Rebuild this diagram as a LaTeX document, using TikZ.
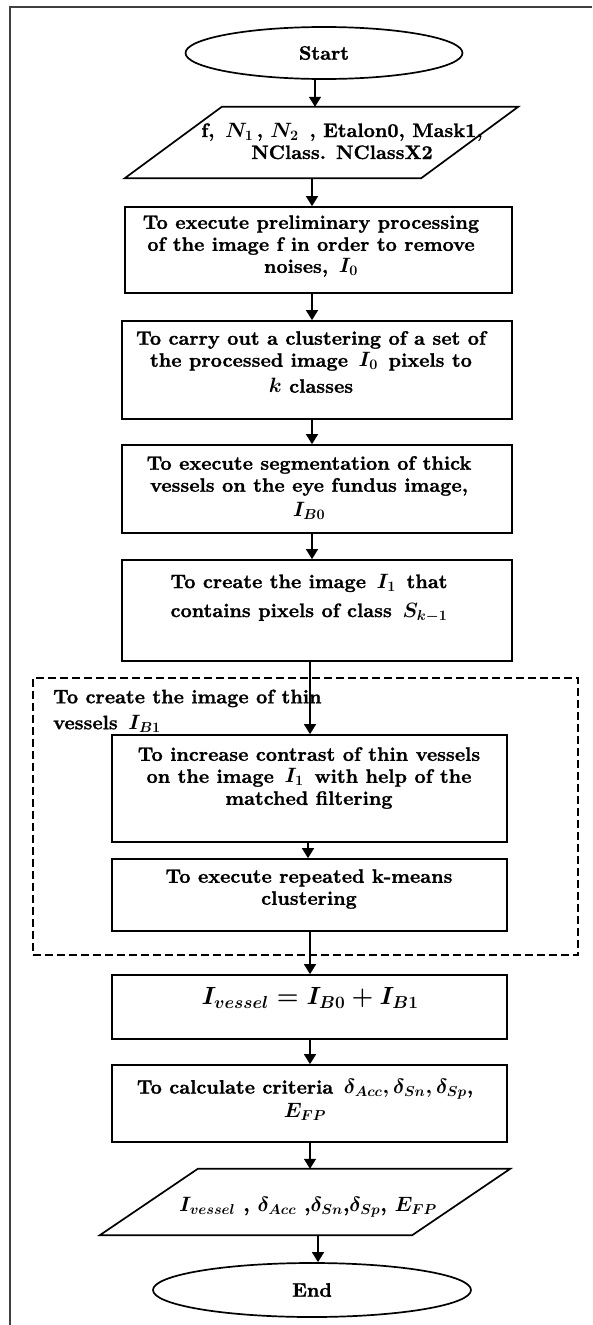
\documentclass[tikz,border=0pt]{standalone}
\usepackage{fontspec}
\setmainfont{lmroman10}[Extension=.otf, UprightFont=*-regular, BoldFont=*-bold,
  ItalicFont=*-italic, BoldItalicFont=*-bolditalic, BoldFeatures={FakeBold=1.2}]
\usetikzlibrary{arrows.meta,calc,shapes.geometric}
\tikzset{
  frameline/.style={line width=1.1pt, draw=black!75},
  boxnode/.style={draw, rectangle, line width=1.7pt, inner sep=0pt},
  ghost/.style={rectangle, inner sep=0pt},
  ovalnode/.style={draw, ellipse, line width=1.7pt, inner sep=0pt,
    font=\fontsize{19.5}{22}\selectfont\bfseries},
  slant/.style={line width=1.7pt, line join=miter},
  txt/.style={inner sep=0pt, align=center, font=\fontsize{19.5}{22}\selectfont\bfseries},
  labeltxt/.style={inner sep=0pt, align=left, font=\fontsize{19.5}{22}\selectfont\bfseries},
  summath/.style={inner sep=0pt, align=center, font=\fontsize{23}{27}\selectfont\bfseries\boldmath},
  outmath/.style={inner sep=0pt, align=center, font=\fontsize{20.5}{24}\selectfont\bfseries\boldmath},
  arr/.style={line width=1.5pt, -{Triangle[width=12pt,length=10pt]}},
  groupbox/.style={draw, line width=1.8pt, dash pattern=on 8pt off 4pt}
}
\newcommand{\mbig}[1]{{\fontsize{22}{24}\selectfont\boldmath$#1$}}
\begin{document}
\begin{tikzpicture}[x=1pt,y=-1pt]
\useasboundingbox (0,0) rectangle (592,1325);
\draw[frameline] (10,1325) -- (10,7) -- (592,7);

% arrow columns
\coordinate (c315) at (315,0);
\coordinate (c312) at (312,0);
\coordinate (c310) at (310,0);
\coordinate (c308) at (308,0);
\coordinate (c318) at (318,0);

% Start
\node[ovalnode, minimum width=277pt, minimum height=52pt] (start) at (324,53) {Start};

% input parallelogram
\node[ghost, minimum width=393pt, minimum height=71pt] (in1) at (321.5,142.5) {};
\draw[slant] (in1.south west) -- ($(in1.south east)+(-97,0)$) -- (in1.north east) -- ($(in1.north west)+(97,0)$) -- cycle;
\node[txt] (tin1) at (342,141) {f, \,\mbig{N_1}\,, \mbig{N_2} \,, Etalon0, Mask1,\\NClass. NClassX2};

% process boxes
\node[boxnode, minimum width=387pt, minimum height=86pt] (b1) at (318.5,250) {};
\node[txt] (tb1) at (311,246) {To execute preliminary processing\\of the image f in order to remove\\noises, \,\mbig{I_0}};

\node[boxnode, minimum width=390pt, minimum height=98pt] (b2) at (317,370) {};
\node[txt] (tb2) at (311,362) {To carry out a clustering of a set of\\the processed image \,\mbig{I_0}\, pixels to\\[4pt]\mbig{k} classes};

\node[boxnode, minimum width=390pt, minimum height=88pt] (b3) at (317,489) {};
\node[txt] (tb3) at (309,488) {To execute segmentation of thick\\vessels on the eye fundus image,\\[3pt]\mbig{I_{B0}}};

\node[boxnode, minimum width=390pt, minimum height=101pt] (b4) at (317,610.5) {};
\node[txt] (tb4) at (309,598) {To create the image \,\mbig{I_1}\, that\\[7pt]contains pixels of class \,\mbig{S_{k-1}}};

% dashed group
\node[groupbox, rectangle, inner sep=0pt, minimum width=545pt, minimum height=277pt] (grp) at (305.5,816.5) {};
\node[labeltxt, anchor=west] (tgrp) at (53,711) {To create the image of thin\\[4pt]vessels \,\mbig{I_{B1}}};

\node[boxnode, minimum width=395pt, minimum height=107pt] (i1) at (309.5,788.5) {};
\node[txt] (ti1) at (309,778) {To increase contrast of thin vessels\\on the image \,\mbig{I_1}\, with help of the\\matched filtering};

\node[boxnode, minimum width=395pt, minimum height=72pt] (i2) at (309.5,895) {};
\node[txt] (ti2) at (309,889) {To execute repeated k-means\\clustering};

% sum box
\node[boxnode, minimum width=395pt, minimum height=64pt] (sum) at (309.5,1007) {};
\node[summath] (tsum) at (310,998) {$I_{vessel} = I_{B0} + I_{B1}$};

% criteria box
\node[boxnode, minimum width=395pt, minimum height=77pt] (crit) at (309.5,1103.5) {};
\node[txt] (tcrit) at (305,1100) {To calculate criteria \,{\boldmath$\delta_{Acc}, \delta_{Sn}, \delta_{Sp}$},\\[2pt]\mbig{E_{FP}}};

% output parallelogram
\node[ghost, minimum width=410pt, minimum height=66pt] (out) at (305,1202) {};
\draw[slant] (out.south west) -- ($(out.south east)+(-98,0)$) -- (out.north east) -- ($(out.north west)+(98,0)$) -- cycle;
\node[outmath] (tout) at (308,1207) {$I_{vessel}$ , $\delta_{Acc}$ ,$\delta_{Sn}$,$\delta_{Sp}$, $E_{FP}$};

% End
\node[ovalnode, minimum width=318pt, minimum height=54pt] (end) at (312,1290) {End};

% connectors
\draw[arr] (start.south -| c315) -- (in1.north -| c315);
\draw[arr] (in1.south -| c312) -- (b1.north -| c312);
\draw[arr] (b1.south -| c312) -- (b2.north -| c312);
\draw[arr] (b2.south -| c312) -- (b3.north -| c312);
\draw[arr] (b3.south -| c312) -- (b4.north -| c312);
\draw[arr] (b4.south -| c310) -- (i1.north -| c310);
\draw[arr] (i1.south -| c308) -- (i2.north -| c308);
\draw[arr] (i2.south -| c310) -- (sum.north -| c310);
\draw[arr] (sum.south -| c310) -- (crit.north -| c310);
\draw[arr] (crit.south -| c310) -- (out.north -| c310);
\draw[arr] (out.south -| c318) -- (end.north -| c318);
\end{tikzpicture}
\end{document}
